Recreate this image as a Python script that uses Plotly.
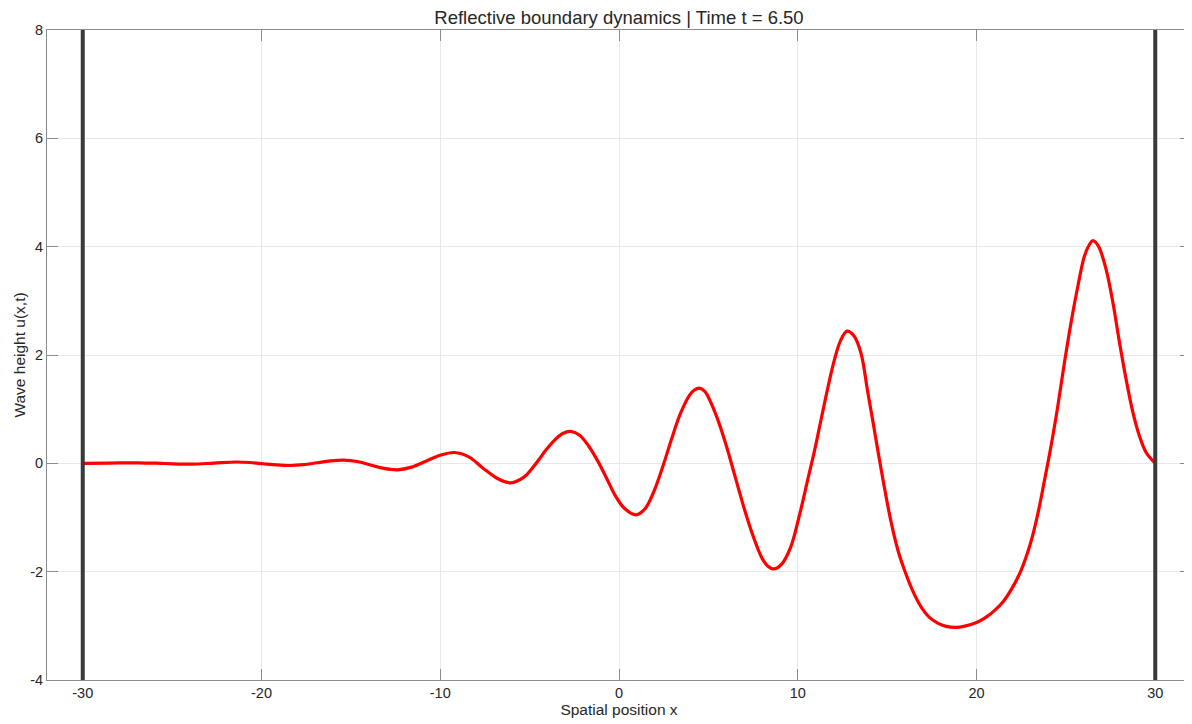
import plotly.graph_objects as go

# Data
x_pos = [-30.0, -28.5, -26.9, -25.4, -23.9, -22.65, -21.4, -20.65, -19.9, -19.15,
         -18.4, -17.65, -16.9, -16.15, -15.4, -14.65, -13.9, -13.15, -12.4, -11.6,
         -10.8, -10.0, -9.2, -8.4, -7.6, -6.8, -6.05, -5.3, -4.9, -4.5,
         -4.1, -3.6, -3.15, -2.7, -2.2, -1.7, -1.2, -0.7, -0.2, 0.3,
         0.95, 1.45, 1.95, 2.45, 2.95, 3.45, 3.95, 4.2, 4.49, 4.8,
         5.0, 5.5, 6.0, 6.5, 7.0, 7.5, 8.0, 8.3, 8.66, 9.1,
         9.6, 10.1, 10.56, 10.93, 11.3, 11.7, 12.05, 12.4, 12.76, 13.15,
         13.54, 13.9, 14.2, 14.67, 15.2, 15.6, 15.97, 16.4, 16.9, 17.35,
         17.83, 18.3, 18.8, 19.4, 20.0, 20.5, 21.0, 21.5, 22.0, 22.5,
         23.0, 23.4, 23.8, 24.17, 24.55, 24.92, 25.29, 25.67, 26.04, 26.32,
         26.51, 26.82, 27.25, 27.63, 28.0, 28.37, 28.75, 29.12, 29.49, 30.0]
u_val = [0.0, 0.005, 0.01, -0.003, -0.015, 0.005, 0.025, 0.015, -0.008, -0.03,
         -0.04, -0.025, 0.01, 0.045, 0.06, 0.034, -0.03, -0.094, -0.12, -0.07,
         0.04, 0.15, 0.20, 0.12, -0.09, -0.28, -0.36, -0.25, -0.11, 0.06,
         0.24, 0.43, 0.55, 0.59, 0.52, 0.32, 0.05, -0.27, -0.60, -0.83,
         -0.95, -0.84, -0.52, -0.06, 0.46, 0.93, 1.26, 1.35, 1.39, 1.33,
         1.22, 0.83, 0.33, -0.25, -0.83, -1.34, -1.75, -1.89, -1.95, -1.86,
         -1.55, -0.95, -0.30, 0.22, 0.80, 1.42, 1.91, 2.27, 2.44, 2.35,
         2.03, 1.35, 0.78, -0.12, -1.05, -1.60, -1.97, -2.33, -2.65, -2.84,
         -2.95, -3.01, -3.03, -3.00, -2.94, -2.85, -2.72, -2.55, -2.30, -1.97,
         -1.50, -0.98, -0.32, 0.32, 1.06, 1.86, 2.60, 3.27, 3.83, 4.04,
         4.11, 4.01, 3.58, 2.97, 2.23, 1.55, 0.94, 0.50, 0.20, 0.0]
boundaries = [-30, 30]
x_ticks = [-30, -20, -10, 0, 10, 20, 30]
x_tick_labels = ["-30", "-20", "-10", "0", "10", "20", "30"]
y_ticks = [-4, -2, 0, 2, 4, 6, 8]
y_tick_labels = ["-4", "-2", "0", "2", "4", "6", "8"]
x_range = [-32, 32]
y_range = [-4, 8]

FONT = "Liberation Sans, Arial, Helvetica, sans-serif"
AX = "#8c8c8c"
TXT = "#262626"

fig = go.Figure()
for b in boundaries:
    fig.add_vline(x=b, line=dict(color="#3a3a3a", width=4), layer="above")

fig.add_trace(go.Scatter(x=x_pos, y=u_val, mode="lines",
                         line=dict(color="#ff0000", width=3.2, shape="spline", smoothing=1.0),
                         showlegend=False))

axis_common = dict(
    showline=True, linecolor=AX, linewidth=1, mirror="ticks",
    ticks="inside", ticklen=11, tickcolor=AX, tickwidth=1,
    showgrid=True, gridcolor="#e8e8e8", gridwidth=1,
    zeroline=False, tickfont=dict(family=FONT, size=14.5, color=TXT),
)

# the page body adds an 8px margin, so the figure is sized/offset to compensate
W, H = 1184, 716
fig.update_layout(
    width=W, height=H,
    margin=dict(l=39, r=1, t=22, b=44),
    paper_bgcolor="white", plot_bgcolor="white",
    title=dict(text="Reflective boundary dynamics | Time t = 6.50",
               x=(39 + 1183) / 2 / W, xanchor="center", y=1 - 10 / H, yanchor="middle",
               font=dict(family=FONT, size=18.5, color=TXT)),
    xaxis=dict(range=x_range, tickvals=x_ticks, ticktext=x_tick_labels, **axis_common,
               title=dict(text="Spatial position x", standoff=3,
                          font=dict(family=FONT, size=15.5, color=TXT))),
    yaxis=dict(range=y_range, tickvals=y_ticks, ticktext=y_tick_labels, **axis_common,
               title=dict(text="Wave height u(x,t)", standoff=0,
                          font=dict(family=FONT, size=15.5, color=TXT))),
)

fig.write_html("out.html")
